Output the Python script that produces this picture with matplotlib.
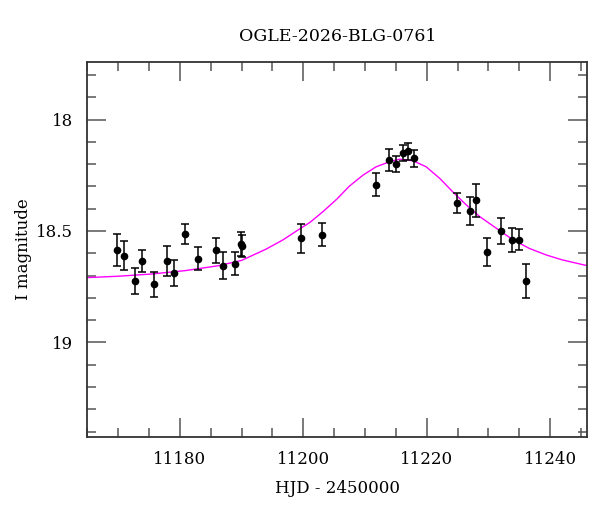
import numpy as np
import matplotlib
matplotlib.use('Agg')
import matplotlib.pyplot as plt
from matplotlib.ticker import MultipleLocator

plt.rcParams['font.family'] = ['DejaVu Serif']

# photometry (HJD - 2450000, I mag, error)
hjd = [11169.8, 11171.0, 11172.8, 11173.9, 11175.8, 11177.9, 11179.0, 11180.8,
       11182.9, 11185.9, 11187.0, 11188.9, 11189.9, 11190.0, 11199.7, 11203.0,
       11211.8, 11213.9, 11215.0, 11216.1, 11217.0, 11218.0, 11224.9, 11227.0,
       11228.0, 11229.8, 11232.0, 11233.8, 11235.0, 11236.1]
mag = [18.586, 18.610, 18.724, 18.635, 18.740, 18.634, 18.688, 18.514,
       18.625, 18.586, 18.655, 18.646, 18.560, 18.566, 18.533, 18.517,
       18.293, 18.180, 18.200, 18.150, 18.143, 18.174, 18.375, 18.411,
       18.363, 18.595, 18.500, 18.541, 18.539, 18.724]
err = [0.073, 0.067, 0.058, 0.050, 0.057, 0.068, 0.060, 0.044,
       0.052, 0.056, 0.061, 0.053, 0.054, 0.050, 0.065, 0.052,
       0.052, 0.049, 0.037, 0.035, 0.037, 0.039, 0.045, 0.063,
       0.073, 0.062, 0.060, 0.053, 0.048, 0.075]

# model curve
model_t = [11165.0, 11170.0, 11175.4, 11180.8, 11186.2, 11190.0, 11194.0, 11196.7,
           11199.4, 11201.1, 11203.2, 11205.4, 11207.5, 11209.7, 11211.8, 11214.0,
           11215.6, 11217.8, 11219.9, 11222.1, 11224.2, 11226.4, 11228.6, 11231.8,
           11234.0, 11236.6, 11239.4, 11242.0, 11245.9]
model_mag = [18.709, 18.703, 18.693, 18.678, 18.656, 18.632, 18.581, 18.540,
             18.491, 18.461, 18.413, 18.358, 18.298, 18.249, 18.212, 18.189,
             18.178, 18.185, 18.212, 18.264, 18.324, 18.383, 18.436, 18.498,
             18.540, 18.578, 18.608, 18.630, 18.655]

fig = plt.figure(figsize=(6, 5.12), dpi=100)
ax = fig.add_axes([0.1453, 0.1465, 0.8335, 0.7324])

ax.plot(model_t, model_mag, color='#ff00ff', lw=1.0, zorder=2)
ax.errorbar(hjd, mag, yerr=err, fmt='o', color='black', ms=4.5,
            elinewidth=1.1, capsize=3, capthick=1.1, zorder=3)

ax.set_xlim(11165, 11246)
ax.set_ylim(19.424, 17.742)
ax.xaxis.set_major_locator(MultipleLocator(20))
ax.xaxis.set_minor_locator(MultipleLocator(5))
ax.yaxis.set_major_locator(MultipleLocator(0.5))
ax.yaxis.set_minor_locator(MultipleLocator(0.1))
ax.yaxis.set_major_formatter(plt.FuncFormatter(lambda v, p: '%g' % v))

ax.tick_params(which='both', direction='in', top=True, right=True,
               color='#555555', labelsize=12, width=1.1)
ax.tick_params(which='major', length=14, pad=10)
ax.tick_params(which='minor', length=6.5)
for s in ax.spines.values():
    s.set_color('#333333')
    s.set_linewidth(1.3)

ax.set_xlabel('HJD - 2450000', fontsize=12, labelpad=9)
ax.set_ylabel('I magnitude', fontsize=12, labelpad=3)
ax.set_title('OGLE-2026-BLG-0761', fontsize=12.5, pad=15)

fig.savefig('out.png', dpi=100)
